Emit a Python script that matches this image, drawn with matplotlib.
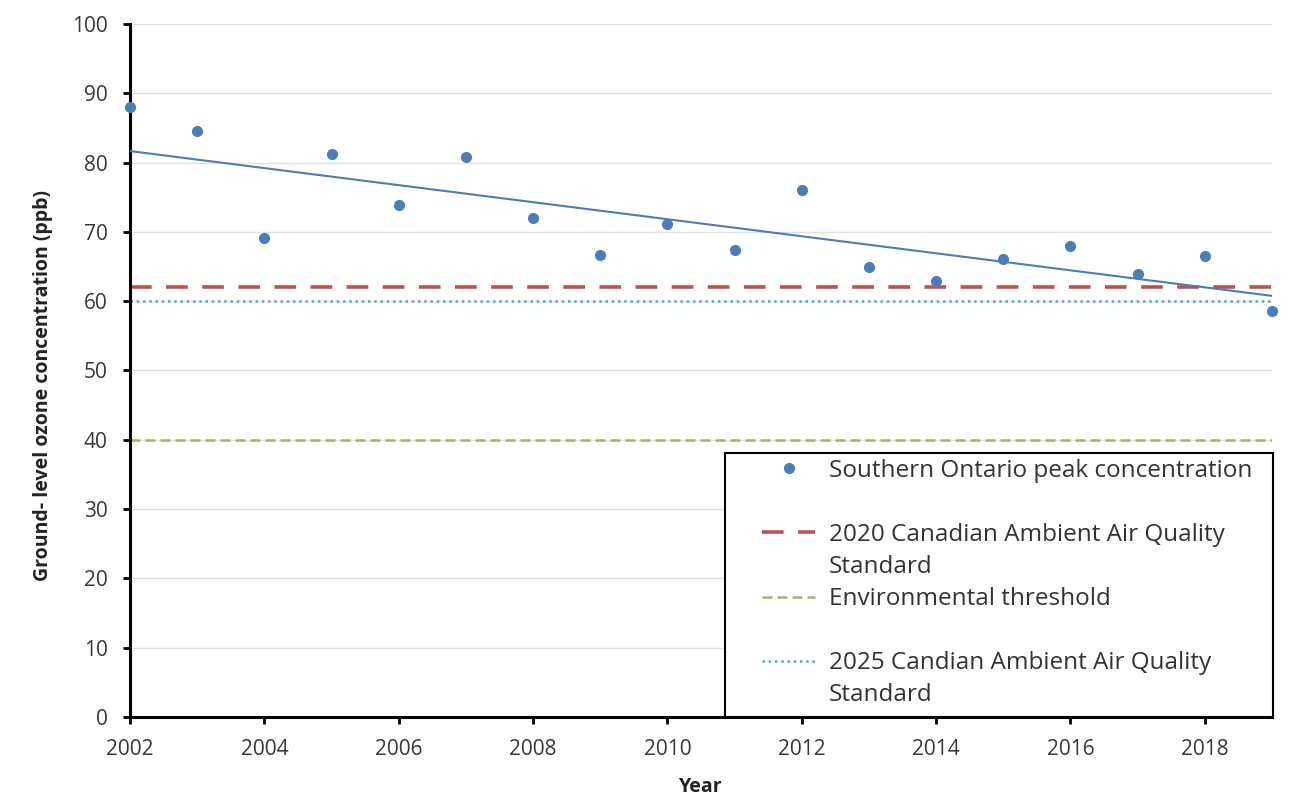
import numpy as np
import matplotlib.pyplot as plt
from matplotlib.lines import Line2D
from matplotlib.patches import Rectangle

# Data
years = [2002, 2003, 2004, 2005, 2006, 2007, 2008, 2009, 2010,
         2011, 2012, 2013, 2014, 2015, 2016, 2017, 2018, 2019]
peak_ppb = [88.0, 84.6, 69.1, 81.2, 73.9, 80.8, 72.0, 66.7, 71.1,
            67.4, 76.0, 64.9, 62.9, 66.1, 68.0, 63.9, 66.5, 58.6]
caaqs_2020 = 62
caaqs_2025 = 60
env_threshold = 40
x_ticks = list(range(2002, 2019, 2))
y_ticks = list(range(0, 101, 10))

plt.rcParams['font.family'] = ['Open Sans', 'DejaVu Sans']

fig = plt.figure(figsize=(13.03, 7.97), dpi=100)
ax = fig.add_axes([0.0998, 0.1004, 0.8764, 0.8696])

blue = '#4a7ebb'
red = '#c0504d'
green = '#9bbb59'
cyan = '#4bacc6'

# Scatter of peak concentrations
pts, = ax.plot(years, peak_ppb, 'o', color=blue, markersize=7, zorder=4, clip_on=False)

# Linear trend line
slope, intercept = np.polyfit(years, peak_ppb, 1)
yr = np.array([years[0], years[-1]])
ax.plot(yr, slope * yr + intercept, color=blue, lw=1.5, zorder=3)

# Reference lines
red_line, = ax.plot(yr, [caaqs_2020] * 2, color=red, lw=2.6, dashes=(6, 4), zorder=2)
green_line, = ax.plot(yr, [env_threshold] * 2, color=green, lw=1.8, dashes=(4, 2), zorder=2)
cyan_line, = ax.plot(yr, [caaqs_2025] * 2, color=cyan, lw=1.8, dashes=(1, 1.5), zorder=2)

ax.set_xlim(2002, 2019)
ax.set_ylim(0, 100)
ax.set_xticks(x_ticks)
ax.set_yticks(y_ticks)
ax.yaxis.grid(True, color='#e2e2e2', lw=1)
ax.set_axisbelow(True)

for s in ['top', 'right']:
    ax.spines[s].set_visible(False)
for s in ['left', 'bottom']:
    ax.spines[s].set_linewidth(2.2)
    ax.spines[s].set_color('black')
ax.tick_params(axis='both', direction='out', length=5, width=2, labelsize=15,
               labelcolor='#383838', pad=11)

ax.set_xlabel('Year', fontsize=14, fontweight='bold', color='#222222')
ax.xaxis.set_label_coords(0.5, -0.101)
ax.xaxis.label.set_va('center')
ax.set_ylabel('Ground- level ozone concentration (ppb)', fontsize=14,
              fontweight='bold', color='#222222')
ax.yaxis.set_label_coords(-0.076, 0.479)
ax.yaxis.label.set_va('center')

# Legend frame
ax.add_patch(Rectangle((0.521, 0.0), 0.48, 0.381, transform=ax.transAxes,
                       facecolor='white', edgecolor='black', lw=1.5,
                       clip_on=False, zorder=5))

# Legend (first-line aligned handles, continuation lines as handle-less rows)
blank = Line2D([], [], linestyle='none')
handles = [pts, blank, red_line, blank, green_line, blank, cyan_line, blank]
labels = ['Southern Ontario peak concentration', ' ',
          '2020 Canadian Ambient Air Quality', 'Standard',
          'Environmental threshold', ' ',
          '2025 Candian Ambient Air Quality', 'Standard']
leg = ax.legend(handles, labels, loc='upper left', bbox_to_anchor=(0.5534, 0.3723),
                fontsize=17.5, frameon=False, borderaxespad=0, borderpad=0,
                labelspacing=0.33, handlelength=2.2, handletextpad=0.55)
for t in leg.get_texts():
    t.set_color('#333333')
leg.set_zorder(6)

fig.savefig('out.png', dpi=100)
